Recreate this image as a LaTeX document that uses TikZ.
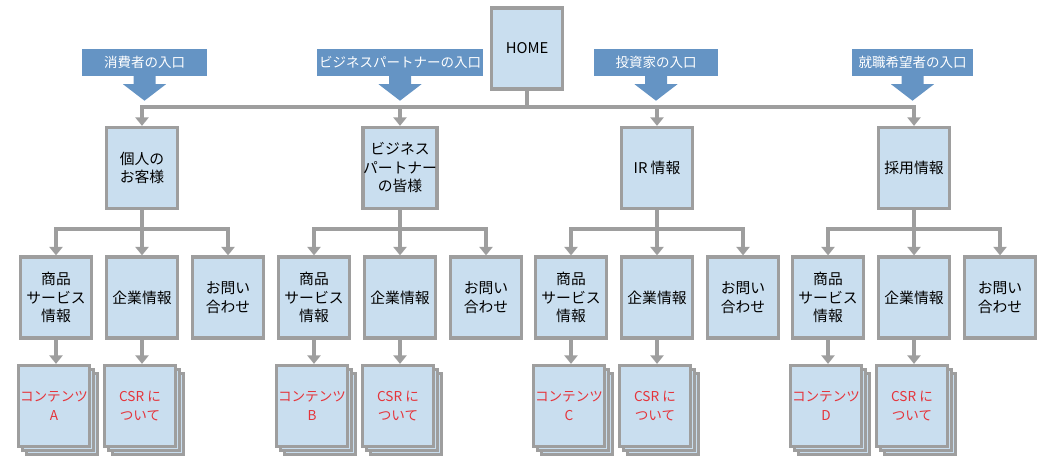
\documentclass[tikz,border=0pt]{standalone}
\usepackage{fontspec}
\setmainfont{Noto Sans CJK JP}
\usetikzlibrary{arrows.meta,shadows,calc}
\definecolor{boxfill}{HTML}{C9DEEF}
\definecolor{boxline}{HTML}{9E9E9E}
\definecolor{bannerblue}{HTML}{6594C4}
\definecolor{redtext}{HTML}{E5343B}
\newcommand\blockarrow[1]{%
  \fill[bannerblue] ($(#1.south)+(-11,-0.5)$) -- ($(#1.south)+(-11,8)$) -- ($(#1.south)+(-21.5,8)$)
    -- ($(#1.south)+(0,24.5)$) -- ($(#1.south)+(21.5,8)$) -- ($(#1.south)+(11,8)$)
    -- ($(#1.south)+(11,-0.5)$) -- cycle;}
\begin{document}
\begin{tikzpicture}[x=1pt,y=-1pt,
  box/.style={draw=boxline,fill=boxfill,line width=3.2pt,minimum width=71pt,minimum height=81pt,
    inner sep=0pt,align=center,font=\fontsize{14.8}{18.5}\selectfont},
  stackbox/.style={box,text=redtext,font=\fontsize{13.6}{18.5}\selectfont,
    double copy shadow={shadow xshift=4pt,shadow yshift=-4pt}},
  banner/.style={fill=bannerblue,text=white,minimum height=27pt,inner sep=0pt,
    font=\fontsize{13.5}{15}\selectfont},
  conn/.style={draw=boxline,line width=3.2pt},
  tip/.style={-{Triangle[width=13pt,length=8.5pt]}},
  tips/.style={{Triangle[width=13pt,length=8.5pt]}-{Triangle[width=13pt,length=8.5pt]}}
]
\useasboundingbox (0,0) rectangle (1040,459);

% HOME
\node[box] (home) at (527,48.5) {HOME};

% entry banners
\node[banner,minimum width=125pt] (e1) at (144.5,62.5) {消費者の入口};
\node[banner,minimum width=166pt] (e2) at (400,62.5) {ビジネスパートナーの入口};
\node[banner,minimum width=124pt] (e3) at (656,62.5) {投資家の入口};
\node[banner,minimum width=121pt] (e4) at (912.5,62.5) {就職希望者の入口};
\blockarrow{e1}
\blockarrow{e2}
\blockarrow{e3}
\blockarrow{e4}

\coordinate (tb) at (0,107);
\coordinate (mb) at (0,229);

\foreach \i/\g/\ptext/\ltr in {1/142/{個人の\\お客様}/A, 2/400/{ビジネス\\パートナー\\の皆様}/B,
    3/657/{IR 情報}/C, 4/914/{採用情報}/D} {
  \node[box] (p\i) at (\g,168) {\ptext};
  \node[box] (a\i) at (\g-86,297.5) {商品\\サービス\\情報};
  \node[box] (b\i) at (\g,297.5) {企業情報};
  \node[box] (c\i) at (\g+86,297.5) {お問い\\合わせ};
  \node[stackbox] (s\i) at (\g-88,406) {コンテンツ\\\ltr};
  \node[stackbox] (t\i) at (\g-2,406) {CSR に\\ついて};
  \draw[conn,tip] (p\i.south) -- (b\i.north);
  \draw[conn,tips] (a\i.north) -- (a\i.north|-mb) -- (c\i.north|-mb) -- (c\i.north);
  \draw[conn,tip] (a\i.south) -- (a\i.south|-s\i.north);
  \draw[conn,tip] (b\i.south) -- (b\i.south|-t\i.north);
}

% top level connectors
\draw[conn] (home.south) -- (home.south|-tb);
\draw[conn,tips] (p1.north) -- (p1.north|-tb) -- (p4.north|-tb) -- (p4.north);
\draw[conn,tip] (p2.north|-tb) -- (p2.north);
\draw[conn,tip] (p3.north|-tb) -- (p3.north);
\end{tikzpicture}
\end{document}
